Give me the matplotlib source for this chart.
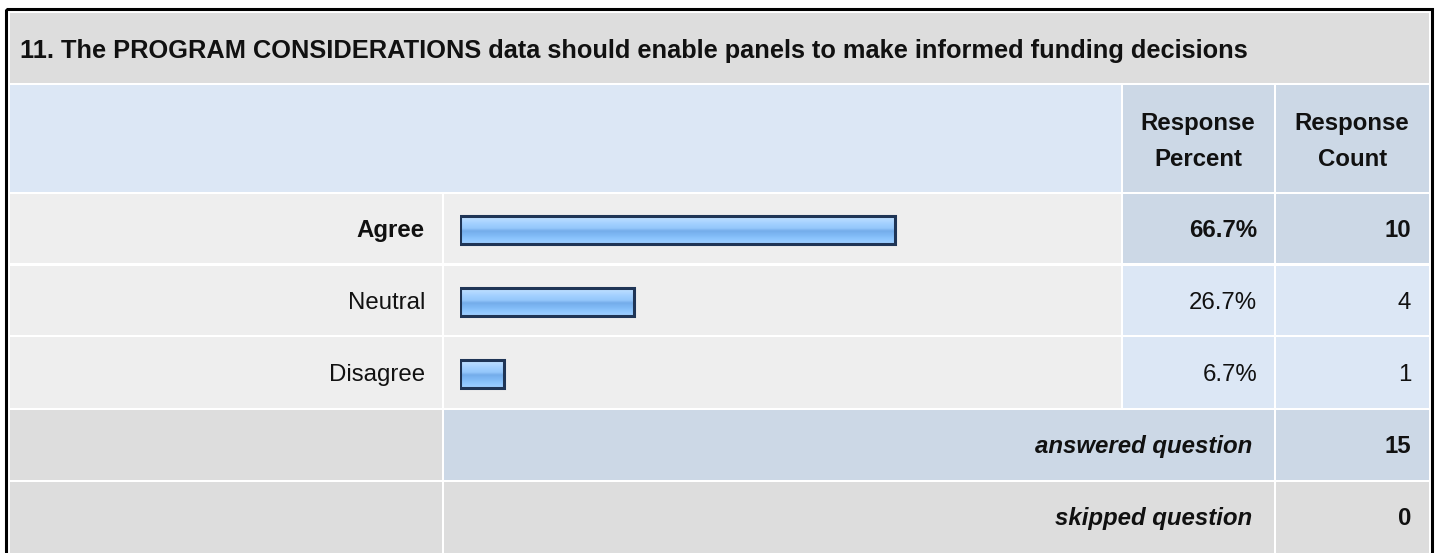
import numpy as np
import matplotlib
matplotlib.use('Agg')
import matplotlib.pyplot as plt
from matplotlib.patches import Rectangle
from matplotlib.colors import LinearSegmentedColormap

plt.rcParams['font.family'] = ['Liberation Sans', 'DejaVu Sans']

title = '11. The PROGRAM CONSIDERATIONS data should enable panels to make informed funding decisions'
answers = ['Agree', 'Neutral', 'Disagree']
percents = [66.7, 26.7, 6.7]
counts = [10, 4, 1]
answered = 15
skipped = 0

W, H = 1437, 553
fig = plt.figure(figsize=(W / 100, H / 100), dpi=100)
fig.patch.set_facecolor('white')

# background "table" drawn in pixel coords
bg = fig.add_axes([0, 0, 1, 1])
bg.set_xlim(0, W)
bg.set_ylim(H, 0)
bg.axis('off')

GREY = '#dddddd'
LIGHT = '#eeeeee'
BLUE = '#dce7f5'
DBLUE = '#ccd8e6'
FS = 17.3


def cell(x0, x1, y0, y1, color):
    bg.add_patch(Rectangle((x0, y0), x1 - x0, y1 - y0, facecolor=color, edgecolor='none'))


# column edges
c_left, c_lab, c_bar0, c_bar1, c_pc0, c_pc1, c_ct0, c_ct1 = 9.5, 442, 443.5, 1120.5, 1122.5, 1274, 1276, 1428.5

# outer border
bg.add_patch(Rectangle((5.5, 8.5), 1426, 560, facecolor='none', edgecolor='black', lw=2.2))

# title row
cell(c_left, c_ct1, 12.5, 83, GREY)
bg.text(20, 58, title, fontsize=18.3, fontweight='bold', ha='left', va='baseline', color='#111111')

# header row
cell(c_left, c_bar1, 85, 192, BLUE)
cell(c_pc0, c_pc1, 85, 192, DBLUE)
cell(c_ct0, c_ct1, 85, 192, DBLUE)
for xc, word in [((c_pc0 + c_pc1) / 2, 'Percent'), ((c_ct0 + c_ct1) / 2, 'Count')]:
    bg.text(xc, 130, 'Response', fontsize=FS, fontweight='bold', ha='center', va='baseline', color='#111111')
    bg.text(xc, 166, word, fontsize=FS, fontweight='bold', ha='center', va='baseline', color='#111111')

# answer rows
rows = [(194, 263), (265.5, 335), (337, 407.5)]
for i, (y0, y1) in enumerate(rows):
    hi = i == 0
    cell(c_left, c_lab, y0, y1, LIGHT)
    cell(c_bar0, c_bar1, y0, y1, LIGHT)
    cell(c_pc0, c_pc1, y0, y1, DBLUE if hi else BLUE)
    cell(c_ct0, c_ct1, y0, y1, DBLUE if hi else BLUE)
    yb = (y0 + y1) / 2 + 8.5
    fw = 'bold' if hi else 'normal'
    bg.text(425, yb, answers[i], fontsize=FS, fontweight=fw, ha='right', va='baseline', color='#111111')
    bg.text(1257, yb, f'{percents[i]:.1f}%', fontsize=FS, fontweight=fw, ha='right', va='baseline', color='#111111')
    bg.text(1411, yb, str(counts[i]), fontsize=FS, fontweight=fw, ha='right', va='baseline', color='#111111')

# answered / skipped rows
for (y0, y1), lab, val, mid in [((409.5, 480), 'answered question', answered, DBLUE),
                                ((482, 560), 'skipped question', skipped, GREY)]:
    cell(c_left, c_lab, y0, y1, GREY)
    cell(c_bar0, c_pc1, y0, y1, mid)
    cell(c_ct0, c_ct1, y0, y1, mid)
    yb = (y0 + min(y1, 551)) / 2 + 8.5
    bg.text(1252, yb, lab, fontsize=FS, fontweight='bold', style='italic', ha='right', va='baseline', color='#111111')
    bg.text(1411, yb, str(val), fontsize=FS, fontweight='bold', ha='right', va='baseline', color='#111111')

# bars
ax = fig.add_axes([460 / W, (H - 410) / H, 652 / W, 216 / H])
ax.set_xlim(0, 100)
ax.set_ylim(2.5, -0.5)
ax.axis('off')
ax.patch.set_alpha(0)

grad_cmap = LinearSegmentedColormap.from_list('bar', [
    (0.0, '#d2ebff'), (0.12, '#b8dcff'), (0.3, '#a2d0ff'), (0.45, '#95c8fb'),
    (0.55, '#74acea'), (0.68, '#7eb8f4'), (0.85, '#8fc7ff'), (1.0, '#a0d0ff')])
grad = np.linspace(0, 1, 64).reshape(-1, 1)

bars = ax.barh(range(len(answers)), percents, height=0.4, facecolor='none',
               edgecolor='#1f3556', linewidth=2.2, zorder=3)
for b in bars:
    x, y, w, h = b.get_x(), b.get_y(), b.get_width(), b.get_height()
    im = ax.imshow(grad, extent=[x, x + w, y + h, y], aspect='auto', cmap=grad_cmap,
                   origin='upper', zorder=2, interpolation='bilinear')
    im.set_clip_path(b)
ax.set_xlim(0, 100)
ax.set_ylim(2.5, -0.5)

fig.savefig('out.png', dpi=100, facecolor='white')
